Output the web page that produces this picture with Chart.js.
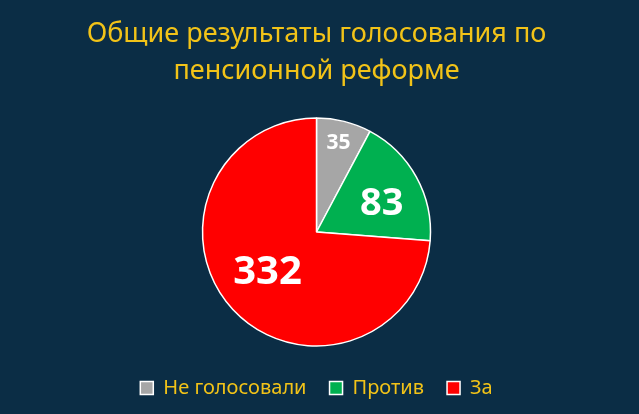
<!DOCTYPE html>
<html>
<head>
<meta charset="utf-8">
<script src="https://cdn.jsdelivr.net/npm/chart.js@4"></script>
<style>
  html, body { margin: 0; padding: 0; background: #0b2d45; }
  #wrap { width: 639px; height: 414px; }
</style>
</head>
<body>
<div id="wrap"><canvas id="pieChart"></canvas></div>
<script>
// Данные
const categories = ['Не голосовали', 'Против', 'За'];
const votes = [35, 83, 332];
const sliceColors = ['#a6a6a6', '#00b050', '#ff0000'];
const titleLines = ['Общие результаты голосования по', 'пенсионной реформе'];

const FONT = "'Noto Sans', sans-serif";
const GOLD = '#f2c318';

// подписи значений внутри секторов (без datalabels)
const labelStyle = [
  { size: 21, r: 0.80, turn: 0 },
  { size: 38, r: 0.62, turn: 6 },
  { size: 40, r: 0.56, turn: 3 }
];

const sliceLabels = {
  id: 'sliceLabels',
  afterDatasetsDraw(chart) {
    const ctx = chart.ctx;
    const meta = chart.getDatasetMeta(0);
    ctx.save();
    ctx.fillStyle = '#ffffff';
    ctx.textAlign = 'center';
    ctx.textBaseline = 'middle';
    meta.data.forEach((arc, i) => {
      const p = arc.getProps(['x', 'y', 'startAngle', 'endAngle', 'outerRadius']);
      const st = labelStyle[i];
      const a = (p.startAngle + p.endAngle) / 2 + st.turn * Math.PI / 180;
      const d = p.outerRadius * st.r;
      ctx.font = 'bold ' + st.size + 'px ' + FONT;
      ctx.fillText(String(votes[i]), p.x + Math.cos(a) * d, p.y + Math.sin(a) * d);
    });
    ctx.restore();
  }
};

const ctx = document.getElementById('pieChart').getContext('2d');
new Chart(ctx, {
  type: 'pie',
  data: {
    labels: categories,
    datasets: [{
      data: votes,
      backgroundColor: sliceColors,
      borderColor: '#ffffff',
      borderWidth: 1.5,
      radius: 114
    }]
  },
  options: {
    responsive: true,
    maintainAspectRatio: false,
    animation: false,
    layout: { padding: { top: 0, bottom: 6, left: 3, right: 9 } },
    plugins: {
      title: {
        display: true,
        text: titleLines,
        color: GOLD,
        font: { family: FONT, size: 27, weight: 'normal', lineHeight: 1.37 },
        padding: { top: 16, bottom: 19 }
      },
      legend: {
        position: 'bottom',
        labels: {
          color: GOLD,
          font: { family: FONT, size: 20 },
          boxWidth: 13,
          boxHeight: 13,
          padding: 23
        }
      },
      tooltip: { enabled: false }
    }
  },
  plugins: [sliceLabels]
});
</script>
</body>
</html>
